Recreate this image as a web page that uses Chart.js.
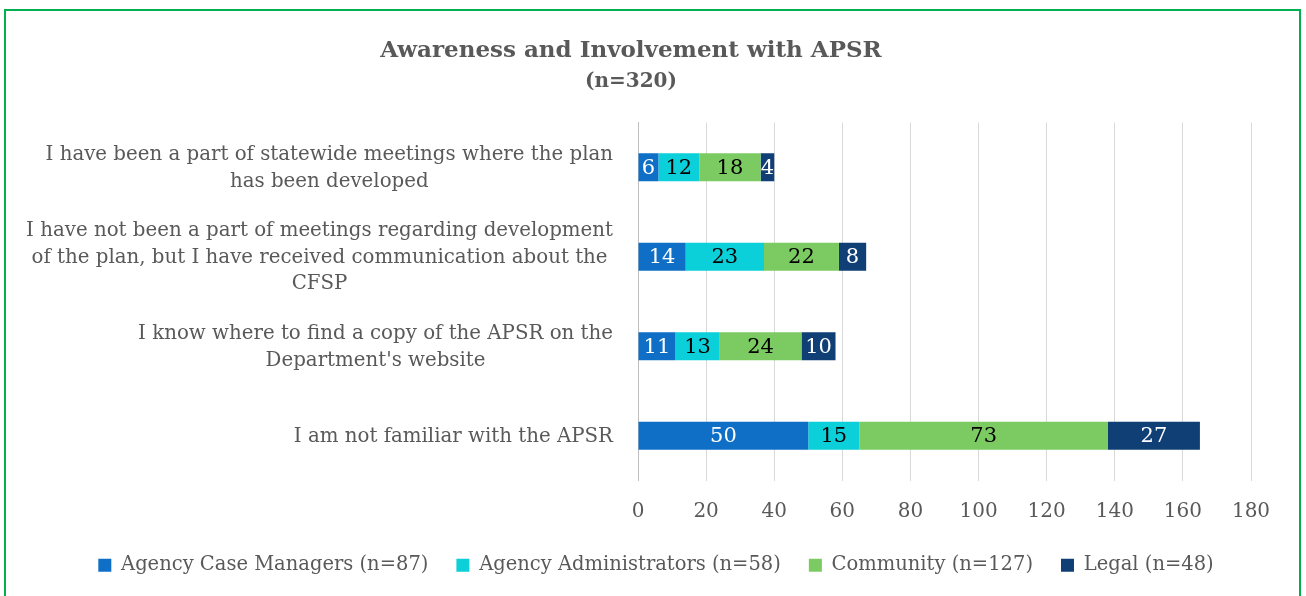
<!DOCTYPE html>
<html><head><meta charset="utf-8">
<script src="https://cdn.jsdelivr.net/npm/chart.js@4/dist/chart.umd.min.js"></script>
<style>
html,body{margin:0;padding:0;background:#fff;overflow:hidden}
#wrap{position:relative;width:1306px;height:596px}
#frame{position:absolute;left:4px;top:9px;width:1297px;height:600px;border:2px solid #00B050;border-bottom:none;box-sizing:border-box;pointer-events:none}
canvas{position:absolute;left:0;top:0}
</style></head>
<body><div id="wrap"><canvas id="c" width="1306" height="596"></canvas><div id="frame"></div></div>
<script>
const titleText = 'Awareness and Involvement with APSR';
const subtitleText = '(n=320)';
const categories = [
  ['I have been a part of statewide meetings where the plan', 'has been developed'],
  ['I have not been a part of meetings regarding development', 'of the plan, but I have received communication about the', 'CFSP'],
  ["I know where to find a copy of the APSR on the", "Department's website"],
  ['I am not familiar with the APSR']
];
const seriesNames = ['Agency Case Managers (n=87)', 'Agency Administrators (n=58)', 'Community (n=127)', 'Legal (n=48)'];
const caseManagers = [6, 14, 11, 50];
const administrators = [12, 23, 13, 15];
const community = [18, 22, 24, 73];
const legal = [4, 8, 10, 27];
const xTickMin = 0, xTickMax = 180, xTickStep = 20;

const seriesColors = ['#0F6FC6', '#0BD0D9', '#7CCA62', '#0F3F75'];
const labelColors = ['#FFFFFF', '#000000', '#000000', '#FFFFFF'];
const FONT = "'DejaVu Serif', serif";
const TEXT = '#595959';

const yLabelPlugin = {
  id: 'yLabels',
  afterDraw(chart) {
    const y = chart.scales.y, ctx = chart.ctx;
    ctx.save();
    ctx.font = '19.8px ' + FONT;
    ctx.fillStyle = TEXT;
    ctx.textAlign = 'center';
    ctx.textBaseline = 'middle';
    const right = y.right - 25, lh = 26.5;
    chart.data.labels.forEach((lines, i) => {
      const w = Math.max(...lines.map(l => ctx.measureText(l).width));
      const cx = right - w / 2;
      const cy = y.getPixelForValue(i) + 1;
      lines.forEach((l, k) => ctx.fillText(l, cx, cy + (k - (lines.length - 1) / 2) * lh));
    });
    ctx.restore();
  }
};

const valueLabels = {
  id: 'valueLabels',
  afterDatasetsDraw(chart) {
    const ctx = chart.ctx;
    ctx.save();
    ctx.font = '21px ' + FONT;
    ctx.textAlign = 'center';
    ctx.textBaseline = 'middle';
    chart.data.datasets.forEach((ds, di) => {
      const meta = chart.getDatasetMeta(di);
      meta.data.forEach((el, i) => {
        const p = el.getCenterPoint();
        ctx.fillStyle = labelColors[di];
        ctx.fillText(String(ds.data[i]), p.x, p.y + 1);
      });
    });
    ctx.restore();
  }
};

const shiftTitles = {
  id: 'shiftTitles',
  afterLayout(chart) {
    chart.boxes.forEach(b => {
      if (b.options && typeof b.options.text === 'string' && !b.legendItems && !b.axis) {
        b.left -= 25; b.right -= 25;
      }
    });
  }
};

const seriesData = [caseManagers, administrators, community, legal];
new Chart(document.getElementById('c'), {
  type: 'bar',
  data: {
    labels: categories,
    datasets: seriesNames.map((n, i) => ({
      label: n,
      data: seriesData[i],
      backgroundColor: seriesColors[i],
      borderWidth: 0,
      categoryPercentage: 1,
      barPercentage: 0.313
    }))
  },
  options: {
    indexAxis: 'y',
    responsive: false,
    animation: false,
    devicePixelRatio: 1,
    layout: { padding: { left: 61, right: 55, top: 0, bottom: 11 } },
    scales: {
      x: {
        stacked: true,
        min: xTickMin, max: xTickMax,
        ticks: { stepSize: xTickStep, color: TEXT, font: { family: FONT, size: 20 }, padding: 19 },
        grid: { color: '#D9D9D9', lineWidth: 1, drawTicks: false },
        border: { display: false },
        afterFit(scale) { scale.height = 47; }
      },
      y: {
        stacked: true,
        ticks: { display: false },
        grid: { display: false },
        border: { display: true, color: '#BFBFBF', width: 1 },
        afterFit(scale) { scale.width = 638 - 61; }
      }
    },
    plugins: {
      title: { display: true, text: titleText, color: TEXT, font: { family: FONT, size: 23, weight: 'bold' }, padding: { top: 37, bottom: 5 } },
      subtitle: { display: true, text: subtitleText, color: TEXT, font: { family: FONT, size: 20, weight: 'bold' }, padding: { top: 0, bottom: 29 } },
      legend: {
        position: 'bottom',
        labels: { color: TEXT, font: { family: FONT, size: 19.5 }, boxWidth: 13, boxHeight: 13, padding: 28 }
      },
      tooltip: { enabled: false }
    }
  },
  plugins: [yLabelPlugin, valueLabels, shiftTitles]
});
</script>
</body></html>
